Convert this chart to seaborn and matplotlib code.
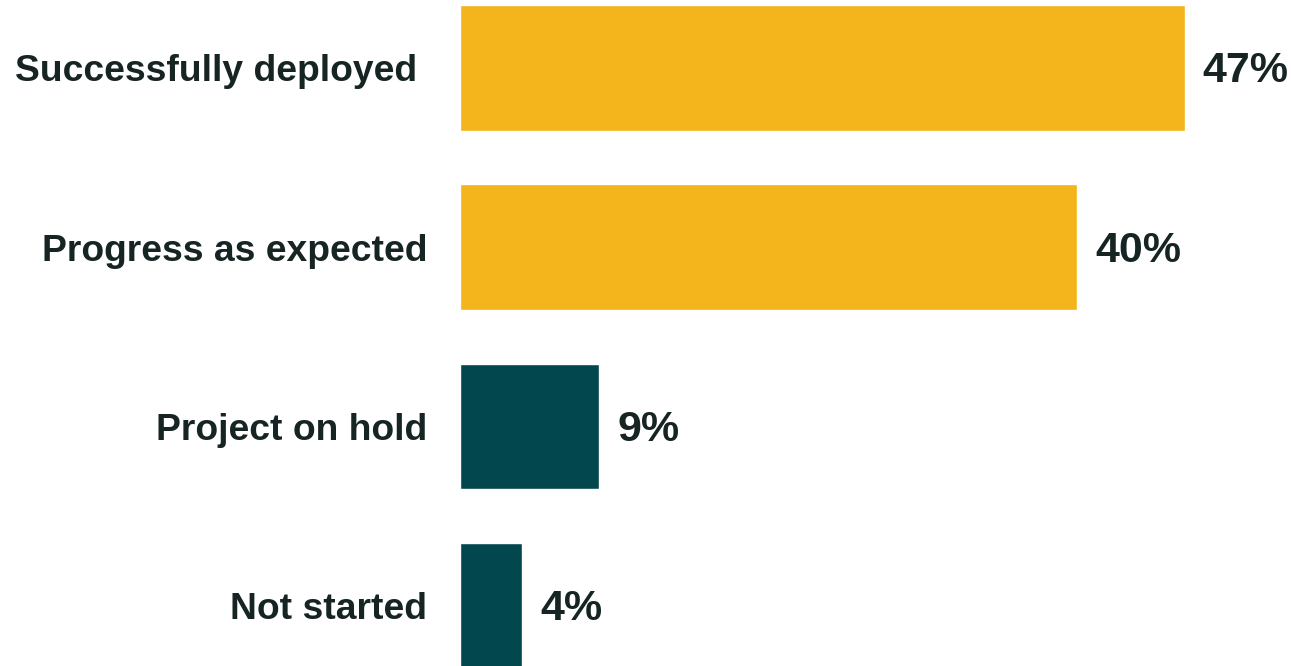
import matplotlib
matplotlib.use("Agg")
import matplotlib.pyplot as plt
import seaborn as sns
import pandas as pd

# Project status survey results
categories = ["Successfully deployed ", "Progress as expected", "Project on hold", "Not started"]
values = [47, 40, 9, 4]
value_labels = ["47%", "40%", "9%", "4%"]
bar_colors = ["#F3B41C", "#F3B41C", "#02474D", "#02474D"]

df = pd.DataFrame({"status": categories, "share": values})

sns.set_theme(style="white")
plt.rcParams["font.family"] = ["Liberation Sans", "DejaVu Sans"]

W, H, DPI = 1291, 666, 100
fig = plt.figure(figsize=(W / DPI, H / DPI), dpi=DPI)
ax = fig.add_axes([460.5 / W, 0, 1 - 460.5 / W, 1])

sns.barplot(data=df, x="share", y="status", hue="status", palette=bar_colors,
            legend=False, width=0.70, saturation=1, ax=ax, orient="h")

ax.set_xlim(0, 53.9)
ax.set_ylim(3.335, -0.378)
ax.set_xlabel("")
ax.set_ylabel("")
ax.set_xticks([])
for s in ax.spines.values():
    s.set_visible(False)

text_color = "#172424"
ax.tick_params(axis="y", length=0, pad=24)
for lbl in ax.get_yticklabels():
    lbl.set_fontsize(26.8)
    lbl.set_fontweight("bold")
    lbl.set_color(text_color)

for i, (v, t) in enumerate(zip(values, value_labels)):
    ax.annotate(t, xy=(v, i), xytext=(13, -2.5), textcoords="offset points",
                ha="left", va="center", fontsize=31, fontweight="bold",
                color=text_color)

fig.savefig("out.png", dpi=DPI, facecolor="white")
